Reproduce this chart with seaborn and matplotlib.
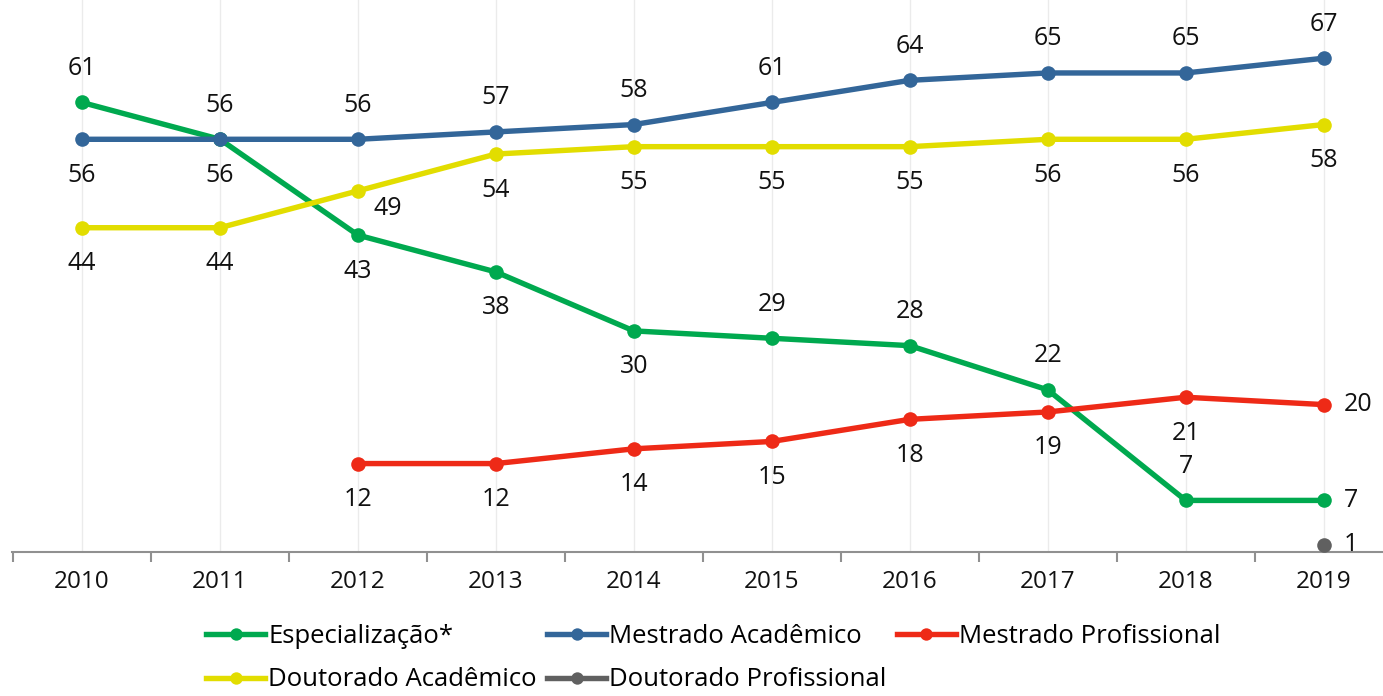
import matplotlib
matplotlib.use("Agg")
import matplotlib.pyplot as plt
from matplotlib.ticker import FixedLocator
import numpy as np
import pandas as pd
import seaborn as sns

anos = ["2010", "2011", "2012", "2013", "2014", "2015", "2016", "2017", "2018", "2019"]
especializacao = [61, 56, 43, 38, 30, 29, 28, 22, 7, 7]
mestrado_acad = [56, 56, 56, 57, 58, 61, 64, 65, 65, 67]
mestrado_prof = [np.nan, np.nan, 12, 12, 14, 15, 18, 19, 21, 20]
doutorado_acad = [44, 44, 49, 54, 55, 55, 55, 56, 56, 58]
doutorado_prof = [np.nan] * 9 + [1]

series = {
    "Especialização*": especializacao,
    "Mestrado Acadêmico": mestrado_acad,
    "Mestrado Profissional": mestrado_prof,
    "Doutorado Acadêmico": doutorado_acad,
    "Doutorado Profissional": doutorado_prof,
}
cores = {
    "Especialização*": "#00A94F",
    "Mestrado Acadêmico": "#336699",
    "Mestrado Profissional": "#EE2A17",
    "Doutorado Acadêmico": "#E2DD00",
    "Doutorado Profissional": "#606060",
}
# where each value label sits: a=above, b=below, r=right, br=below right
posicoes = {
    "Especialização*": ["a", "b", "b", "b", "b", "a", "a", "a", "a", "r"],
    "Mestrado Acadêmico": ["b", "a", "a", "a", "a", "a", "a", "a", "a", "a"],
    "Mestrado Profissional": ["", "", "b", "b", "b", "b", "b", "b", "b", "r"],
    "Doutorado Acadêmico": ["b", "b", "br", "b", "b", "b", "b", "b", "b", "b"],
    "Doutorado Profissional": [""] * 9 + ["r"],
}

plt.rcParams["font.family"] = ["Open Sans", "DejaVu Sans"]

fig = plt.figure(figsize=(13.83, 6.96), dpi=100)
ax = fig.add_axes([12 / 1383, 144 / 696, 1 - 12 / 1383, 552 / 696])

x = np.arange(len(anos))
for nome, vals in series.items():
    df = pd.DataFrame({"x": x, "y": vals}).dropna()
    sns.lineplot(data=df, x="x", y="y", ax=ax, color=cores[nome], linewidth=3.9,
                 marker="o", markersize=10.5, markeredgewidth=0, label=nome,
                 zorder=3)
    for xi, v, p in zip(x, vals, posicoes[nome]):
        if np.isnan(v) or not p:
            continue
        if p == "a":
            dx, dy, ha = 0, 34, "center"
        elif p == "b":
            dx, dy, ha = 0, -36, "center"
        elif p == "r":
            dx, dy, ha = 20, 0, "left"
        else:
            dx, dy, ha = 30, -18, "center"
        ax.annotate(f"{int(v)}", (xi, v), xytext=(dx, dy), textcoords="offset pixels",
                    ha=ha, va="center", fontsize=18, color="#111111")

ax.set_xlim(-0.507, 9.43)
ax.set_ylim(0, 74.9)
ax.set_xticks(x)
ax.set_xticklabels(anos, fontsize=17.5, color="#111111")
ax.xaxis.set_minor_locator(FixedLocator(np.arange(-0.5, 10, 1.0)))
ax.tick_params(axis="x", which="major", length=0, pad=13)
ax.tick_params(axis="x", which="minor", length=7, width=1.5, color="#909090", direction="out")
ax.set_yticks([])
ax.set_xlabel("")
ax.set_ylabel("")
for xi in x:
    ax.axvline(xi, color="#EBEBEB", linewidth=1, zorder=0)
for s in ["top", "right", "left"]:
    ax.spines[s].set_visible(False)
ax.spines["bottom"].set_color("#909090")
ax.spines["bottom"].set_linewidth(1.5)

handles, labels = ax.get_legend_handles_labels()
ordem = [0, 3, 1, 4, 2]
ax.legend([handles[i] for i in ordem], [labels[i] for i in ordem], ncol=3,
          loc="upper left", bbox_to_anchor=(206 / 1383, 72 / 696),
          bbox_transform=fig.transFigure, frameon=False, fontsize=18.5,
          handlelength=2.3, handletextpad=0.12, columnspacing=0.4,
          labelspacing=0.72, borderaxespad=0, borderpad=0, markerscale=0.85)

fig.savefig("out.png", dpi=100)
